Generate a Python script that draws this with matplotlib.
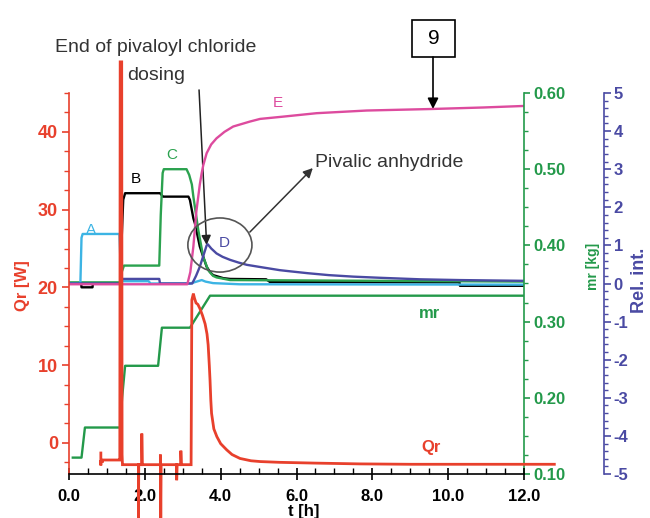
import matplotlib
matplotlib.use("Agg")
import matplotlib.pyplot as plt
from matplotlib.ticker import MultipleLocator, FormatStrFormatter
from matplotlib.patches import Ellipse, Rectangle

plt.rcParams['font.family'] = ['Liberation Sans', 'DejaVu Sans']
plt.rcParams['axes.unicode_minus'] = False

# ---------------- data ----------------
# Heat flow Qr [W]
t_qr = [0.84, 0.84, 0.84, 0.88, 0.88, 1.33, 1.34, 1.35, 1.39, 1.40, 1.41, 1.45,
        1.83, 1.83, 1.84, 1.92, 1.92, 1.93, 2.41, 2.41, 2.42, 2.43, 2.84, 2.84, 2.85,
        2.95, 2.95, 2.96, 3.22, 3.24, 3.26, 3.28, 3.31, 3.35, 3.40, 3.45, 3.52, 3.59,
        3.64, 3.67, 3.70, 3.72, 3.74, 3.76, 3.82, 3.90, 4.00, 4.16, 4.30, 4.51, 4.80,
        5.04, 5.56, 6.50, 7.67, 9.00, 12.80]
qr = [-1.3, -2.9, -2.4, -2.4, -2.2, -2.2, -2.2, 49.0, 49.0, -1.5, -2.8, -2.8,
      -2.8, -10.5, -2.8, -2.8, 1.2, -2.8, -2.8, -1.5, -10.5, -2.8, -2.8, -4.8, -2.8,
      -2.8, -1.0, -2.8, -2.8, 18.4, 18.8, 19.2, 18.6, 18.0, 17.8, 17.3, 16.4, 15.3,
      14.0, 12.6, 10.0, 8.0, 5.5, 3.8, 1.8, 0.8, -0.1, -0.9, -1.5, -2.0, -2.3,
      -2.4, -2.5, -2.6, -2.7, -2.75, -2.75]

# Reactor mass mr [kg]
t_mr = [0.10, 0.33, 0.42, 1.35, 1.40, 1.48, 2.35, 2.45, 3.19, 3.72, 12.0]
mr = [0.1215, 0.1215, 0.161, 0.161, 0.20, 0.242, 0.242, 0.292, 0.292, 0.334, 0.334]

# Relative IR intensities A-E
t_a = [0.0, 0.30, 0.33, 0.36, 1.33, 1.36, 1.40, 2.10, 2.15, 3.20, 3.40, 3.50, 3.60, 3.80, 4.50, 12.0]
rel_a = [0.0, 0.0, 1.2, 1.30, 1.30, 0.5, 0.06, 0.06, 0.0, 0.0, 0.06, 0.09, 0.05, 0.01, -0.02, -0.03]

t_b = [0.0, 0.32, 0.33, 0.62, 0.63, 1.36, 1.39, 1.43, 1.48, 2.40, 2.48, 3.15, 3.19, 3.28,
       3.32, 3.45, 3.54, 3.63, 3.72, 3.80, 4.07, 4.25, 5.20, 5.30, 10.30, 10.31, 12.0]
rel_b = [0.0, 0.0, -0.1, -0.1, 0.0, 0.0, 1.2, 2.2, 2.37, 2.37, 2.28, 2.28, 2.19, 1.71,
         1.58, 0.97, 0.70, 0.44, 0.30, 0.22, 0.14, 0.12, 0.11, 0.04, 0.03, -0.06, -0.06]

t_c = [0.0, 1.36, 1.39, 1.45, 2.38, 2.42, 2.47, 2.50, 3.10, 3.17, 3.24, 3.28, 3.41,
       3.54, 3.67, 3.80, 3.89, 4.25, 12.0]
rel_c = [0.03, 0.03, 0.3, 0.47, 0.47, 1.8, 2.9, 3.0, 3.0, 2.85, 2.6, 2.28, 1.40,
         0.70, 0.35, 0.20, 0.16, 0.09, 0.05]

t_d = [0.0, 1.38, 1.40, 2.38, 2.40, 3.25, 3.35, 3.45, 3.55, 3.63, 3.66, 3.75, 3.89,
       4.05, 4.25, 4.47, 4.69, 5.12, 5.56, 5.83, 6.30, 6.85, 7.50, 8.20, 9.26, 10.30, 12.0]
rel_d = [0.0, 0.0, 0.12, 0.12, 0.0, 0.0, 0.2, 0.44, 0.75, 1.0, 1.03, 0.92, 0.79,
         0.70, 0.62, 0.55, 0.49, 0.42, 0.35, 0.32, 0.27, 0.22, 0.18, 0.15, 0.11, 0.09, 0.07]

t_e = [0.0, 3.12, 3.20, 3.28, 3.36, 3.45, 3.50, 3.54, 3.63, 3.75, 3.89, 4.10, 4.33,
       4.77, 5.04, 5.65, 6.53, 7.85, 9.56, 10.93, 12.0]
rel_e = [-0.02, -0.02, 0.3, 0.97, 1.9, 2.6, 2.9, 3.1, 3.42, 3.65, 3.81, 3.98, 4.12,
         4.25, 4.32, 4.38, 4.47, 4.54, 4.58, 4.62, 4.66]

# ---------------- styling ----------------
W, H = 650, 518
RED = '#e8402c'
GREEN = '#23994a'
BLUE = '#4a4aa3'
CYAN = '#3cb4e4'
PINK = '#dd4b9e'
TXT = '#333333'

fig = plt.figure(figsize=(6.5, 5.18), dpi=100)
fig.patch.set_facecolor('white')

ax_q = fig.add_axes([69 / W, 1 - 474 / H, (524 - 69) / W, (474 - 93) / H])
ax_mr = ax_q.twinx()
ax_rel = ax_q.twinx()
ax_rel.spines['right'].set_position(('outward', 80 * 0.72))

for a, z in ((ax_rel, 1), (ax_mr, 2), (ax_q, 3)):
    a.set_zorder(z)
    a.patch.set_visible(False)

# spines
for s in ('top', 'right'):
    ax_q.spines[s].set_visible(False)
ax_q.spines['left'].set_color(RED)
ax_q.spines['bottom'].set_color('black')
for a in (ax_mr, ax_rel):
    for s in ('top', 'left', 'bottom'):
        a.spines[s].set_visible(False)
ax_mr.spines['right'].set_color(GREEN)
ax_rel.spines['right'].set_color(BLUE)
for a in (ax_q, ax_mr, ax_rel):
    for s in a.spines.values():
        s.set_linewidth(1.2)

# limits
ax_q.set_xlim(0, 12)
ax_q.set_ylim(-4, 45)
ax_mr.set_ylim(0.10, 0.60)
ax_rel.set_ylim(-5, 5)

# ticks
ax_q.xaxis.set_major_locator(MultipleLocator(2))
ax_q.xaxis.set_minor_locator(MultipleLocator(0.5))
ax_q.xaxis.set_major_formatter(FormatStrFormatter('%.1f'))
ax_q.yaxis.set_major_locator(MultipleLocator(10))
ax_q.yaxis.set_minor_locator(MultipleLocator(2.5))
ax_mr.yaxis.set_major_locator(MultipleLocator(0.1))
ax_mr.yaxis.set_minor_locator(MultipleLocator(0.025))
ax_mr.yaxis.set_major_formatter(FormatStrFormatter('%.2f'))
ax_rel.yaxis.set_major_locator(MultipleLocator(1))
ax_rel.yaxis.set_minor_locator(MultipleLocator(0.2))

ax_q.tick_params(axis='x', which='major', direction='inout', length=8, width=1.2,
                 labelsize=12, pad=7, colors='black')
ax_q.tick_params(axis='x', which='minor', direction='in', length=4, width=1.0)
ax_q.tick_params(axis='y', which='major', direction='out', length=5, width=1.2,
                 colors=RED, labelsize=13, pad=3)
ax_q.tick_params(axis='y', which='minor', direction='out', length=3.5, width=1.0, colors=RED)
ax_mr.tick_params(axis='y', which='major', direction='out', length=4.5, width=1.2,
                  colors=GREEN, labelsize=12, pad=2)
ax_mr.tick_params(axis='y', which='minor', direction='out', length=3, width=1.0, colors=GREEN)
ax_rel.tick_params(axis='y', which='major', direction='out', length=5, width=1.2,
                   colors=BLUE, labelsize=12, pad=2)
ax_rel.tick_params(axis='y', which='minor', direction='out', length=3, width=1.0, colors=BLUE)

for a in (ax_q, ax_mr, ax_rel):
    for lab in a.get_xticklabels() + a.get_yticklabels():
        lab.set_fontweight('bold')

# ---------------- curves ----------------
lw = 1.7
ax_rel.plot(t_b, rel_b, color='black', lw=lw, zorder=2)
ax_rel.plot(t_c, rel_c, color='#2ba24f', lw=lw, zorder=3)
ax_rel.plot(t_a, rel_a, color=CYAN, lw=lw, zorder=4)
ax_rel.plot(t_d, rel_d, color=BLUE, lw=lw, zorder=5)
ax_rel.plot(t_e, rel_e, color=PINK, lw=lw, zorder=6)

ax_mr.plot(t_mr, mr, color=GREEN, lw=lw)

ax_q.plot(t_qr, qr, color=RED, lw=2.0, clip_on=False, solid_joinstyle='miter')

# ---------------- labels ----------------
ax_rel.text(0.57, 1.40, 'A', color=CYAN, fontsize=11, ha='center', va='center')
ax_rel.text(1.77, 2.74, 'B', color='black', fontsize=11, ha='center', va='center')
ax_rel.text(2.72, 3.37, 'C', color='#2ba24f', fontsize=11, ha='center', va='center')
ax_rel.text(4.09, 1.06, 'D', color=BLUE, fontsize=11, ha='center', va='center')
ax_rel.text(5.51, 4.74, 'E', color=PINK, fontsize=11, ha='center', va='center')
ax_mr.text(9.52, 0.311, 'mr', color=GREEN, fontsize=12, fontweight='bold', ha='center', va='center')
ax_q.text(9.55, -0.65, 'Qr', color=RED, fontsize=12, fontweight='bold', ha='center', va='center')

fig.text(22 / W, 1 - 286 / H, 'Qr [W]', color=RED, fontsize=12, fontweight='bold',
         rotation=90, ha='center', va='center')
fig.text(593 / W, 1 - 266 / H, 'mr [kg]', color=GREEN, fontsize=10, fontweight='bold',
         rotation=90, ha='center', va='center')
fig.text(639 / W, 1 - 280 / H, 'Rel. int.', color=BLUE, fontsize=13, fontweight='bold',
         rotation=90, ha='center', va='center')
ax_q.set_xlabel('t [h]', fontsize=12, fontweight='bold')
ax_q.xaxis.set_label_coords(0.515, -0.079)

# annotations
fig.text(156 / W, 1 - 47 / H, 'End of pivaloyl chloride', color=TXT, fontsize=14,
         ha='center', va='center')
fig.text(127 / W, 1 - 75 / H, 'dosing', color=TXT, fontsize=14, ha='left', va='center')
ax_rel.annotate('', xy=(3.63, 1.01), xytext=(3.43, 5.08), annotation_clip=False,
                arrowprops=dict(arrowstyle='-|>', color='#222222', lw=1.1,
                                mutation_scale=14, shrinkA=0, shrinkB=0))

ell = Ellipse((3.98, 1.01), 1.69, 1.42, fill=False, edgecolor='#555555', lw=1.2,
              clip_on=False, zorder=7)
ax_rel.add_patch(ell)
ax_rel.annotate('', xy=(6.43, 3.03), xytext=(4.77, 1.35), annotation_clip=False,
                arrowprops=dict(arrowstyle='-|>', color='#333333', lw=1.1,
                                mutation_scale=14, shrinkA=0, shrinkB=0))
fig.text(315 / W, 1 - 163 / H, 'Pivalic anhydride', color=TXT, fontsize=14,
         ha='left', va='center')

rect = Rectangle((412 / W, 1 - 57 / H), 43 / W, 37 / H, transform=fig.transFigure,
                 fill=False, edgecolor='black', lw=1.2)
fig.patches.append(rect)
fig.text(433.5 / W, 1 - 38 / H, '9', color='black', fontsize=15, ha='center', va='center')
ax_rel.annotate('', xy=(9.6, 4.58), xytext=(9.6, 5 + (93 - 57) / 38.1), annotation_clip=False,
                arrowprops=dict(arrowstyle='-|>', color='black', lw=1.2,
                                mutation_scale=16, shrinkA=0, shrinkB=0))

fig.savefig('out.png', dpi=100)
